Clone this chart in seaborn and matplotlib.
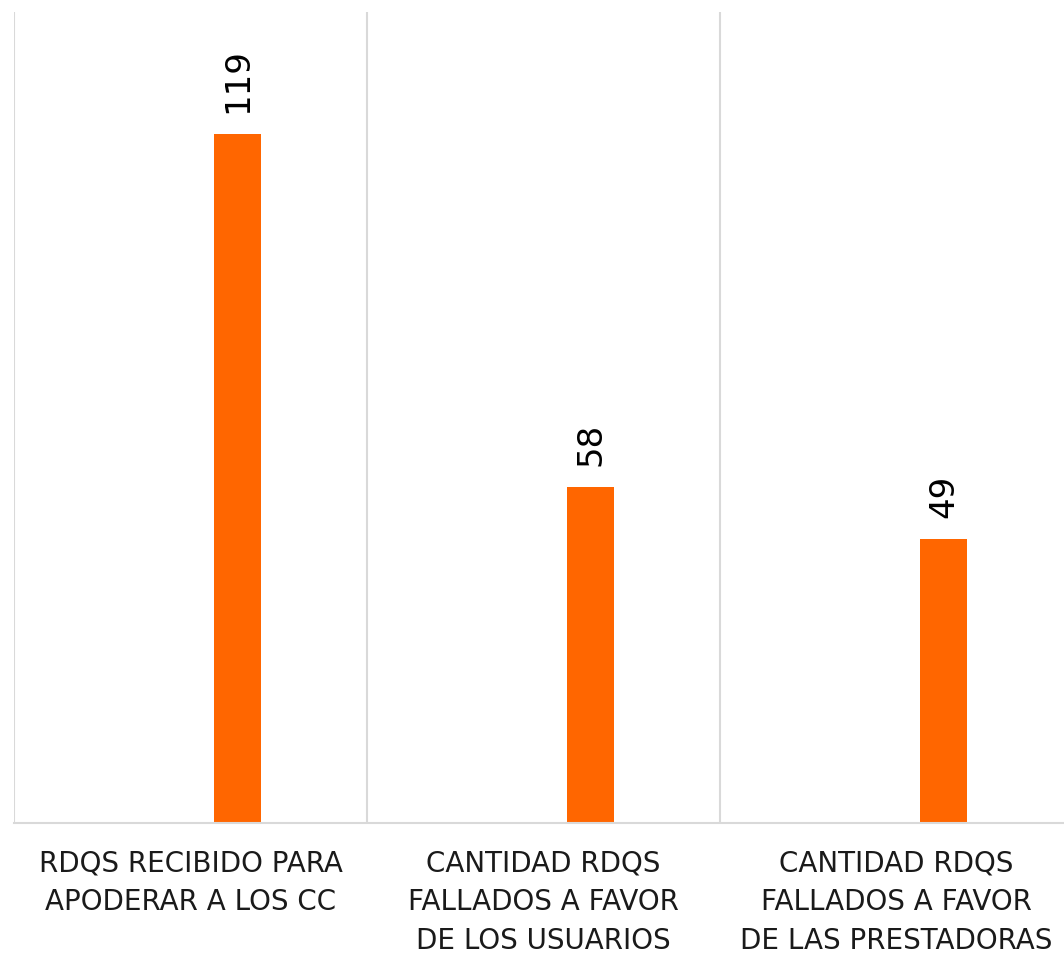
import matplotlib
matplotlib.use("Agg")
import matplotlib.pyplot as plt
import seaborn as sns
import pandas as pd

categories = ["RDQS RECIBIDO PARA\nAPODERAR A LOS CC",
              "CANTIDAD RDQS\nFALLADOS A FAVOR\nDE LOS USUARIOS",
              "CANTIDAD RDQS\nFALLADOS A FAVOR\nDE LAS PRESTADORAS"]
values = [119, 58, 49]
series = ["s1", "s2", "Total"]

rows = []
for c, v in zip(categories, values):
    rows.append({"cat": c, "series": "s1", "val": 0})
    rows.append({"cat": c, "series": "s2", "val": 0})
    rows.append({"cat": c, "series": "Total", "val": v})
df = pd.DataFrame(rows)

sns.set_theme(style="white")
fig = plt.figure(figsize=(10.64, 9.56), dpi=100)
ax = fig.add_axes([14/1064, 1 - 823/956, 1059/1064, (823 - 12)/956])

sns.barplot(data=df, x="cat", y="val", hue="series", hue_order=series,
            palette=["#FF6600", "#FF6600", "#FF6600"], saturation=1,
            width=0.4, order=categories, ax=ax, legend=False, linewidth=0,
            errorbar=None)

ax.set_ylim(0, 140)
ax.set_xlim(-0.5, 2.5)
ax.set_xlabel("")
ax.set_ylabel("")
ax.set_yticks([])

cont = ax.containers[2]
ax.bar_label(cont, labels=[str(v) for v in values], rotation=90, padding=15,
             fontsize=24.5, family="DejaVu Sans", color="black")

ax.set_xticks(range(len(categories)))
ax.set_xticklabels(categories, fontsize=20, family="DejaVu Sans",
                   linespacing=1.5, color="#1a1a1a")
ax.tick_params(axis="x", length=0, pad=19)
ax.set_xticks([-0.5, 0.5, 1.5, 2.5], minor=True)
ax.tick_params(axis="x", which="minor", length=0)
ax.grid(False)
ax.grid(True, which="minor", axis="x", color="#d9d9d9", linewidth=1.5)
ax.set_axisbelow(True)

for s in ["top", "right", "left"]:
    ax.spines[s].set_visible(False)
ax.spines["bottom"].set_color("#d9d9d9")
ax.spines["bottom"].set_linewidth(1.5)

fig.savefig("out.png", dpi=100, facecolor="white")
